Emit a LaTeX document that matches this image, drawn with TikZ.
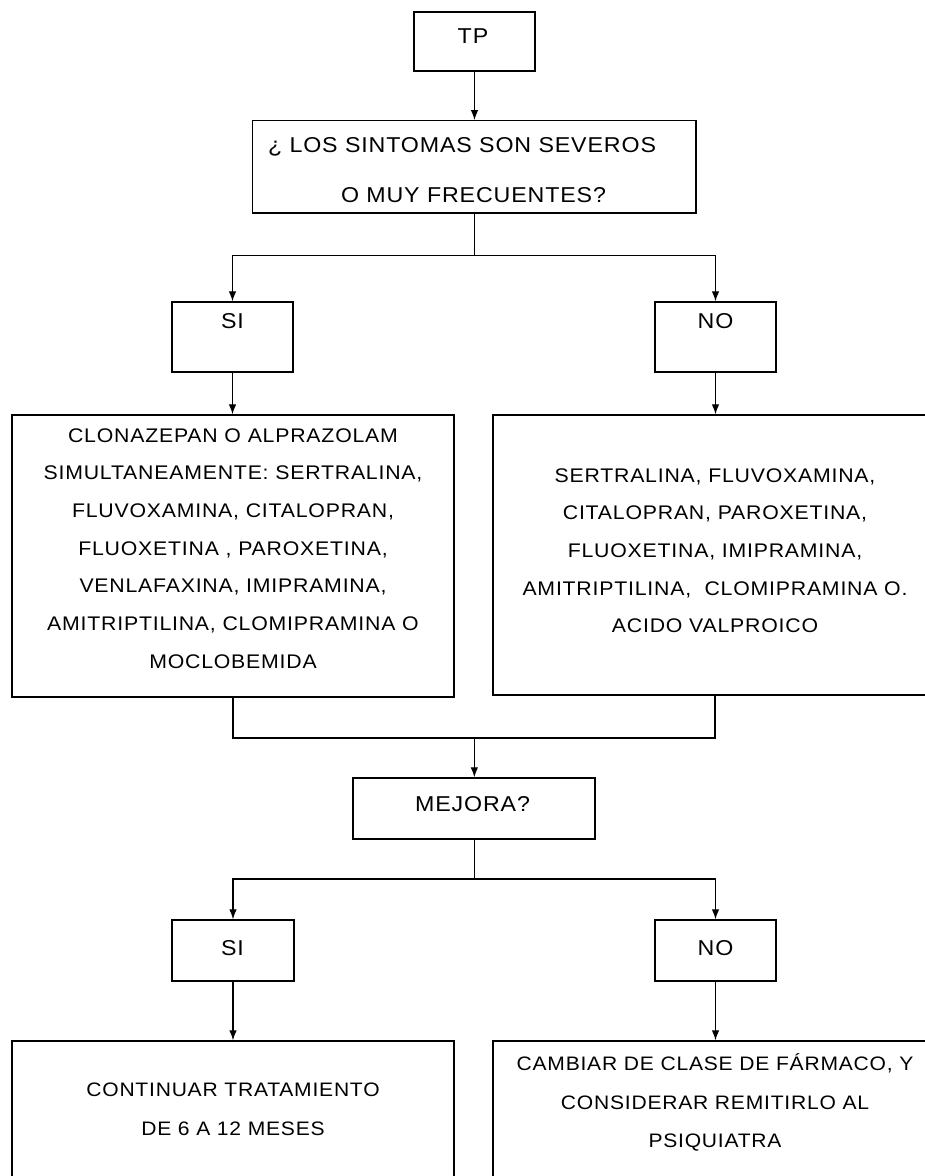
\documentclass[tikz,border=0pt]{standalone}
\usepackage{fontspec}
\setmainfont{Liberation Sans}
\newfontfamily\boxfont{Liberation Sans}[FakeStretch=1.08, LetterSpace=4]
\usetikzlibrary{arrows.meta}

\tikzset{
  box/.style={draw=black, line width=1.4pt, rectangle, inner sep=0pt, fill=none},
  link/.style={draw=black, line width=1.1pt},
  arr/.style={link, -{Latex[length=10pt,width=7.5pt]}},
  txtbig/.style={anchor=base, inner sep=0pt, font=\boxfont\fontsize{21.5}{25}\selectfont},
  txtmed/.style={anchor=base, inner sep=0pt, font=\boxfont\fontsize{19.7}{23}\selectfont},
  txtlow/.style={anchor=base, inner sep=0pt, font=\boxfont\fontsize{19.5}{23}\selectfont},
}

% a rectangle given by its corners (x1,y1) and (x2,y2), in pixels from the top left
\newcommand{\boxat}[5]{%
  \node[box, minimum width={(#4)-(#2)}, minimum height={(#5)-(#3)}]
    (#1) at ({((#2)+(#4))/2},{((#3)+(#5))/2}) {};}

\begin{document}
\begin{tikzpicture}[x=1pt,y=-1pt]
\useasboundingbox (0,0) rectangle (925,1176);
\clip (0,0) rectangle (925,1176);
\fill[white] (0,0) rectangle (925,1176);

% boxes
\boxat{tp}{414}{12}{535}{71}
\boxat{q}{252.7}{120.7}{696}{213}
\boxat{si1}{172}{302}{293}{372}
\boxat{no1}{655}{302}{776}{372}
\boxat{b1}{12}{415}{454}{697}
\boxat{b2}{493}{415}{937}{695}
\boxat{mej}{353}{778}{595}{839}
\boxat{si2}{172}{920}{294}{981}
\boxat{no2}{655}{920}{776}{981}
\boxat{b3}{12}{1041}{454}{1200}
\boxat{b4}{493}{1041}{937}{1200}

% labels
\node[txtbig] (tp-t) at (473,43) {TP};
\node[txtbig] (q-1) at (462,152) {¿ LOS SINTOMAS SON SEVEROS};
\node[txtbig] (q-2) at (473.5,202) {O MUY FRECUENTES?};
\node[txtbig] (si1-t) at (232.5,328) {SI};
\node[txtbig] (no1-t) at (715.5,328) {NO};
\node[txtbig] (mej-t) at (472.5,811) {MEJORA?};
\node[txtbig] (si2-t) at (232.5,955) {SI};
\node[txtbig] (no2-t) at (715.5,955) {NO};

\foreach \t [count=\i from 0] in {%
  {CLONAZEPAN O ALPRAZOLAM},
  {SIMULTANEAMENTE: SERTRALINA,},
  {FLUVOXAMINA, CITALOPRAN,},
  {FLUOXETINA , PAROXETINA,},
  {VENLAFAXINA, IMIPRAMINA,},
  {AMITRIPTILINA, CLOMIPRAMINA O},
  {MOCLOBEMIDA}}
  \node[txtmed] (b1-\i) at (233,442+37.7*\i) {\t};

\foreach \t [count=\i from 0] in {%
  {SERTRALINA, FLUVOXAMINA,},
  {CITALOPRAN, PAROXETINA,},
  {FLUOXETINA, IMIPRAMINA,},
  {AMITRIPTILINA,\ \ CLOMIPRAMINA O.},
  {ACIDO VALPROICO}}
  \node[txtmed] (b2-\i) at (715,482+37.7*\i) {\t};

\node[txtlow] (b3-1) at (233,1096) {CONTINUAR TRATAMIENTO};
\node[txtlow] (b3-2) at (233,1135) {DE 6 A 12 MESES};
\node[txtlow] (b4-1) at (715,1070) {CAMBIAR DE CLASE DE FÁRMACO, Y};
\node[txtlow] (b4-2) at (715,1109) {CONSIDERAR REMITIRLO AL};
\node[txtlow] (b4-3) at (715,1147) {PSIQUIATRA};

% connectors
\coordinate (j1) at (q.south |- 0,255.7);
\coordinate (j2) at (q.south |- 0,738);
\coordinate (j3) at (q.south |- 0,879);

\draw[arr] (tp.south) -- (tp.south |- q.north);
\draw[link] (q.south) -- (j1);
\draw[arr] (j1) -| (si1.north);
\draw[arr] (j1) -| (no1.north);
\draw[arr] (si1.south) -- (si1.south |- b1.north);
\draw[arr] (no1.south) -- (no1.south |- b2.north);
\draw[link] (b1.south) |- (j2);
\draw[link] (b2.south) |- (j2);
\draw[arr] (j2) -- (j2 |- mej.north);
\draw[link] (j2 |- mej.south) -- (j3);
\draw[arr] (j3) -| (si2.north);
\draw[arr] (j3) -| (no2.north);
\draw[arr] (si2.south) -- (si2.south |- b3.north);
\draw[arr] (no2.south) -- (no2.south |- b4.north);
\end{tikzpicture}
\end{document}
